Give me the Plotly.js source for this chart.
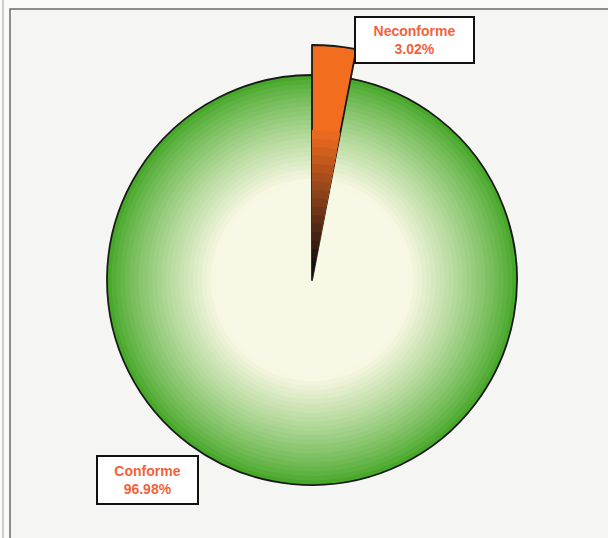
<!DOCTYPE html>
<html>
<head>
<meta charset="utf-8">
<script src="https://cdn.plot.ly/plotly-3.0.1.min.js"></script>
<style>html,body{margin:0;padding:0;background:#fafaf8;}#chart{width:608px;height:538px;}</style>
</head>
<body>
<div id="chart"></div>
<script>
// Data
const labels = ["Neconforme", "Conforme"];
const values = [3.02, 96.98];

const W = 608, H = 538;
const cx = 312, cy = 280;
const R = 205;          // main pie radius (px)
const Rout = 235;       // radius of the pulled-out slice (px)

function dom(r) {
  return {
    x: [(cx - r) / W, (cx + r) / W],
    y: [(H - cy - r) / H, (H - cy + r) / H]
  };
}
function mix(a, b, t) {
  const pa = [parseInt(a.slice(1,3),16), parseInt(a.slice(3,5),16), parseInt(a.slice(5,7),16)];
  const pb = [parseInt(b.slice(1,3),16), parseInt(b.slice(3,5),16), parseInt(b.slice(5,7),16)];
  return 'rgb(' + pa.map((v,i)=>Math.round(v + (pb[i]-v)*t)).join(',') + ')';
}

const traces = [];
const base = {
  type: 'pie', labels: labels, values: values, sort: false,
  direction: 'clockwise', rotation: 0, textinfo: 'none',
  hoverinfo: 'skip', showlegend: false
};

// Green slice with a soft gradient (rings from edge to centre)
const rings = 24;
for (let i = 0; i < rings; i++) {
  const f = 1 - i * 0.022;
  const t = Math.min(1, Math.pow(i / (rings - 1), 0.85));
  const col = mix('#48a82a', '#f7f7e2', t);
  traces.push(Object.assign({}, base, {
    domain: dom(R * f),
    marker: {
      colors: ['rgba(0,0,0,0)', col],
      line: { color: ['rgba(0,0,0,0)', i === 0 ? '#1a1a1a' : col], width: [0, i === 0 ? 1.8 : 0] }
    }
  }));
}
traces.push(Object.assign({}, base, {
  domain: dom(R * 0.47),
  marker: { colors: ['rgba(0,0,0,0)', '#f8f8e6'], line: { width: 0 } }
}));

// Orange (Neconforme) slice drawn out beyond the pie, darkening toward its tip
traces.push(Object.assign({}, base, {
  domain: dom(Rout),
  marker: { colors: ['#f36d1f', 'rgba(0,0,0,0)'],
            line: { color: ['#1a1a1a', 'rgba(0,0,0,0)'], width: [1.8, 0] } }
}));
const oSteps = 16;
for (let i = 1; i <= oSteps; i++) {
  const r = 150 - (i - 1) * 8.5;
  const t = Math.pow(i / oSteps, 1.1);
  const col = mix('#f36d1f', '#161012', t);
  traces.push(Object.assign({}, base, {
    domain: dom(r),
    marker: { colors: [col, 'rgba(0,0,0,0)'],
              line: { color: [col, 'rgba(0,0,0,0)'], width: [0, 0] } }
  }));
}

const total = values.reduce((a, b) => a + b, 0);
const pct = values.map(v => (v / total * 100).toFixed(2) + '%');

const annFont = { family: 'Liberation Sans, Arial, sans-serif', size: 14, color: '#f0633a' };
const layout = {
  width: W, height: H,
  margin: { l: 0, r: 0, t: 0, b: 0 },
  paper_bgcolor: '#fafaf8',
  plot_bgcolor: '#fafaf8',
  shapes: [
    { type: 'rect', xref: 'paper', yref: 'paper', layer: 'below',
      x0: 10 / W, x1: 1.02, y0: -0.02, y1: 1 - 9 / H,
      line: { color: '#6a6a70', width: 1.5 }, fillcolor: '#f5f5f3' },
    { type: 'line', xref: 'paper', yref: 'paper', layer: 'below',
      x0: 3 / W, x1: 3 / W, y0: 0, y1: 1,
      line: { color: '#a0a0a0', width: 1 } }
  ],
  annotations: [
    { xref: 'paper', yref: 'paper', x: 414.5 / W, y: 1 - 40.5 / H,
      xanchor: 'center', yanchor: 'middle', showarrow: false,
      text: '<b>' + labels[0] + '</b><br><b>' + pct[0] + '</b>',
      font: annFont, bgcolor: '#ffffff', bordercolor: '#111111', borderwidth: 2,
      borderpad: 3, width: 111, height: 38 },
    { xref: 'paper', yref: 'paper', x: 147.5 / W, y: 1 - 479.5 / H,
      xanchor: 'center', yanchor: 'middle', showarrow: false,
      text: '<b>' + labels[1] + '</b><br><b>' + pct[1] + '</b>',
      font: annFont, bgcolor: '#ffffff', bordercolor: '#111111', borderwidth: 2,
      borderpad: 3, width: 93, height: 40 }
  ]
};

Plotly.newPlot('chart', traces, layout, { displayModeBar: false, staticPlot: true });
</script>
</body>
</html>
